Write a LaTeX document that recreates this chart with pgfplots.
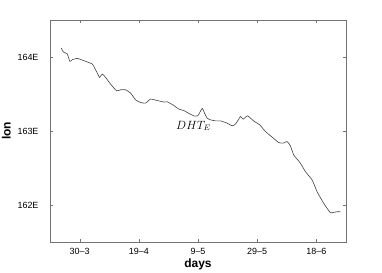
\documentclass[border=0pt]{standalone}
\usepackage{pgfplots}
\pgfplotsset{compat=1.18}
\usepackage{fontspec}
\setmainfont{Liberation Sans}
\begin{document}
\begin{tikzpicture}
\begin{axis}[
 scale only axis, width=296bp, height=222bp,
 xmin=-10, xmax=90, ymin=161.5, ymax=164.5,
 xtick={0,20,40,60,80}, xticklabels={30--3,19--4,9--5,29--5,18--6},
 ytick={162,163,164}, yticklabels={162E,163E,164E},
 tick align=inside, major tick length=3bp,
 axis line style={black!55}, tick style={black!55},
 tick label style={font=\fontsize{9}{10}\selectfont},
 yticklabel style={xshift=-8bp},
 xticklabel style={yshift=-3bp},
 xlabel={days}, ylabel={lon},
 label style={font=\bfseries\fontsize{12}{14}\selectfont},
 xlabel style={yshift=3bp},
 ylabel style={yshift=0bp},
]
\coordinate (sw) at (rel axis cs:0,0);
\addplot[black!75, line width=0.6pt, smooth, tension=0.3] coordinates {
(-6.18,164.122) (-5.50,164.068) (-4.73,164.054) (-4.15,164.041) (-3.27,163.940)
(-2.46,163.963) (-0.78,163.981) (1.45,163.950) (4.29,163.905) (5.06,163.851)
(5.97,163.783) (6.75,163.724) (7.66,163.770) (8.78,163.724) (10.46,163.634)
(12.49,163.544) (13.84,163.557) (15.53,163.557) (17.22,163.513) (18.90,163.422)
(20.59,163.385) (22.28,163.377) (23.97,163.431) (26.23,163.412) (28.46,163.391)
(29.60,163.395) (31.83,163.345) (33.52,163.296) (35.21,163.277) (36.35,163.250)
(38.58,163.205) (39.93,163.205) (41.08,163.286) (41.52,163.304) (42.19,163.242)
(43.10,163.174) (44.22,163.151) (45.91,163.137) (47.59,163.137) (49.86,163.106)
(51.55,163.070) (52.66,163.093) (53.77,163.160) (54.35,163.196) (55.26,163.160)
(56.03,163.188) (56.81,163.205) (57.72,163.174) (59.07,163.128) (60.86,163.083)
(62.78,162.993) (65.05,162.917) (67.27,162.844) (68.76,162.836) (70.11,162.857)
(71.22,162.799) (72.34,162.677) (74.60,162.565) (76.29,162.451) (78.55,162.339)
(80.24,162.180) (82.46,162.023) (84.73,161.896) (85.84,161.901) (86.99,161.909)
(88.10,161.909)
};
\node[font=\fontsize{12}{14}\selectfont] at (axis cs:38.5,163.07) {$DHT_E$};
\end{axis}
\pgfresetboundingbox
\path (sw) ++(-50bp,-31bp) rectangle ++(382bp,273bp);
\end{tikzpicture}
\end{document}
